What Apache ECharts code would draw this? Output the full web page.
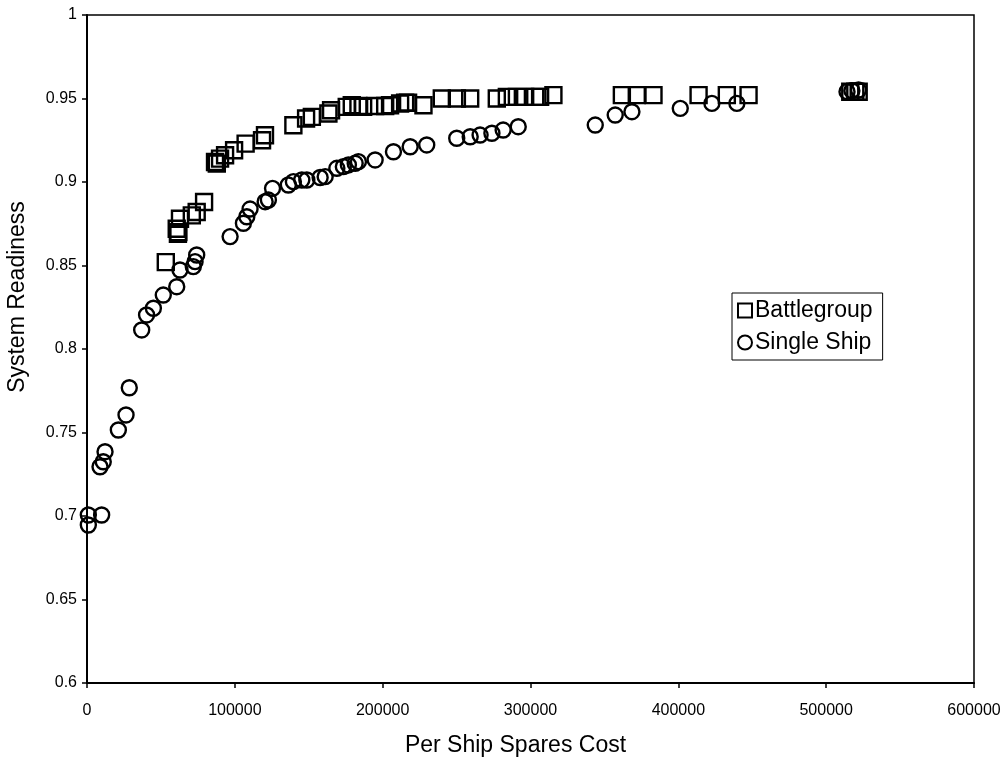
<!DOCTYPE html>
<html>
<head>
<meta charset="utf-8">
<script src="https://cdn.jsdelivr.net/npm/echarts@6/dist/echarts.min.js"></script>
<style>
  html, body { margin: 0; padding: 0; background: #fff; }
  #chart { width: 1002px; height: 759px; }
</style>
</head>
<body>
<div id="chart"></div>
<script>
// Battlegroup
var bgCost = [53300, 61500, 61800, 60700, 62900, 70900, 74200, 79200, 87800, 86600, 90000, 93400, 99500,
  107300, 118400, 120400, 139600, 148200, 152100, 163300, 165100, 175700, 179100, 183600, 186800,
  194900, 201700, 205000, 211800, 215200, 217200, 227600, 240000, 250200, 259200, 277200, 284000,
  290800, 296400, 303200, 306500, 315500, 361800, 371900, 383200, 413700, 432800, 447500, 516300,
  519700, 522000];
var bgReadiness = [0.852, 0.869, 0.870, 0.872, 0.878, 0.880, 0.882, 0.888, 0.911, 0.912, 0.914, 0.916, 0.919,
  0.923, 0.925, 0.928, 0.934, 0.938, 0.939, 0.941, 0.943, 0.945, 0.946, 0.9455, 0.945,
  0.9455, 0.9455, 0.946, 0.947, 0.9475, 0.9475, 0.946, 0.950, 0.950, 0.950, 0.950, 0.951,
  0.951, 0.951, 0.951, 0.951, 0.952, 0.952, 0.952, 0.952, 0.952, 0.952, 0.952, 0.954,
  0.954, 0.954];

// Single Ship
var ssCost = [900, 900, 9900, 8800, 11000, 12200, 21200, 26400, 28600, 37000, 40300, 44900, 51600,
  60700, 62900, 71900, 73100, 74200, 96800, 105800, 108100, 110300, 120500, 122700, 125500,
  136200, 139600, 145300, 148700, 157700, 161100, 169000, 173400, 176800, 181400, 183600, 194900,
  207300, 218600, 229800, 250100, 259200, 265900, 273900, 281500, 291700, 343800, 357300, 368600,
  401300, 422700, 439600, 514100, 517400, 521900];
var ssReadiness = [0.7006, 0.6946, 0.7006, 0.7295, 0.7325, 0.7385, 0.7515, 0.7605, 0.7768, 0.8114, 0.8204, 0.8244, 0.8323,
  0.8373, 0.8473, 0.8493, 0.8523, 0.8563, 0.8673, 0.8753, 0.8792, 0.8838, 0.8882, 0.8892, 0.8962,
  0.8982, 0.9002, 0.9012, 0.9012, 0.9027, 0.9032, 0.9082, 0.9092, 0.9102, 0.9112, 0.9122, 0.9132,
  0.9181, 0.9211, 0.9222, 0.9262, 0.9271, 0.9281, 0.9292, 0.9311, 0.9331, 0.9341, 0.9401, 0.9421,
  0.9441, 0.9471, 0.9471, 0.9541, 0.9547, 0.9551];

var font = 'Liberation Sans, Arial, sans-serif';

function zip(xs, ys) {
  return xs.map(function (x, i) { return [x, ys[i]]; });
}

var chart = echarts.init(document.getElementById('chart'));
var option = {
  backgroundColor: '#fff',
  animation: false,
  textStyle: { fontFamily: font, color: '#000' },
  grid: {
    left: 87, right: 28, top: 15, bottom: 76,
    outerBoundsMode: 'none',
    show: true, borderColor: '#000', borderWidth: 1.5
  },
  legend: {
    orient: 'vertical',
    left: 732, top: 293,
    padding: [6, 10, 6, 5],
    itemGap: 9,
    itemWidth: 14, itemHeight: 14,
    borderColor: '#000', borderWidth: 1,
    backgroundColor: '#fff',
    textStyle: { fontFamily: font, fontSize: 23, color: '#000', padding: [0, 0, 0, -2] },
    data: [
      { name: 'Battlegroup', icon: 'rect' },
      { name: 'Single Ship', icon: 'circle' }
    ]
  },
  xAxis: {
    type: 'value',
    min: 0, max: 600000, interval: 100000,
    name: 'Per Ship Spares Cost',
    nameLocation: 'middle',
    nameGap: 51,
    nameTextStyle: { fontFamily: font, fontSize: 23, color: '#000', padding: [0, 30, 0, 0] },
    axisLine: { lineStyle: { color: '#000', width: 2 } },
    axisTick: { show: true, length: 5, lineStyle: { color: '#000', width: 1.5 } },
    axisLabel: {
      fontFamily: font, fontSize: 16, color: '#000', margin: 20,
      formatter: function (v) { return String(v); }
    },
    splitLine: { show: false }
  },
  yAxis: {
    type: 'value',
    min: 0.6, max: 1, interval: 0.05,
    name: 'System Readiness',
    nameLocation: 'middle',
    nameGap: 58,
    nameTextStyle: { fontFamily: font, fontSize: 23, color: '#000', padding: [0, 0, 0, 104] },
    axisLine: { lineStyle: { color: '#000', width: 2 } },
    axisTick: { show: true, length: 5, lineStyle: { color: '#000', width: 1.5 } },
    axisLabel: { fontFamily: font, fontSize: 16, color: '#000', margin: 10 },
    splitLine: { show: false }
  },
  series: [
    {
      name: 'Battlegroup',
      type: 'scatter',
      symbol: 'rect',
      symbolSize: 16,
      itemStyle: { color: 'rgba(255,255,255,0)', borderColor: '#000', borderWidth: 2.4, opacity: 1 },
      data: zip(bgCost, bgReadiness)
    },
    {
      name: 'Single Ship',
      type: 'scatter',
      symbol: 'circle',
      symbolSize: 15,
      itemStyle: { color: 'rgba(255,255,255,0)', borderColor: '#000', borderWidth: 2.4, opacity: 1 },
      data: zip(ssCost, ssReadiness)
    }
  ]
};
chart.setOption(option);
</script>
</body>
</html>
